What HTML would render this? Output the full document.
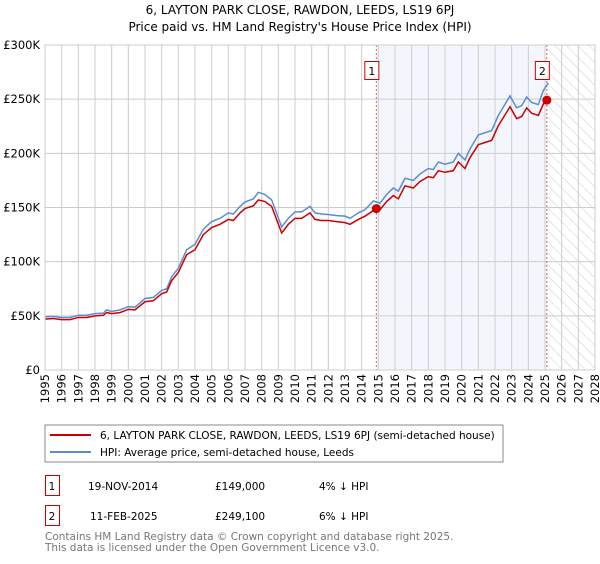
<!DOCTYPE html>
<html><head><meta charset="utf-8"><style>
body{margin:0;background:#fff;font-family:"DejaVu Sans","Liberation Sans",sans-serif;}
svg text{font-family:"DejaVu Sans","Liberation Sans",sans-serif;}
</style></head><body>
<svg id="c" width="600" height="560" xmlns="http://www.w3.org/2000/svg">
<defs><pattern id="hatch" width="8" height="8" patternUnits="userSpaceOnUse" patternTransform="rotate(-45)"><line x1="0" y1="0" x2="0" y2="8" stroke="#ccc" stroke-width="1"/></pattern></defs>
<text x="300" y="14" text-anchor="middle" font-size="12">6, LAYTON PARK CLOSE, RAWDON, LEEDS, LS19 6PJ</text>
<text x="300" y="31" text-anchor="middle" font-size="12">Price paid vs. HM Land Registry's House Price Index (HPI)</text>
<g id="plot"></g>
<rect x="45" y="425" width="458" height="37" fill="#fff" stroke="#888"/>
<line x1="50" y1="435" x2="91" y2="435" stroke="#cc0000" stroke-width="2"/>
<text x="100" y="439" font-size="10.5">6, LAYTON PARK CLOSE, RAWDON, LEEDS, LS19 6PJ (semi-detached house)</text>
<line x1="50" y1="452" x2="91" y2="452" stroke="#5b8bd0" stroke-width="2"/>
<text x="100" y="456" font-size="10.5">HPI: Average price, semi-detached house, Leeds</text>
<g font-size="10.5">
<rect x="45.5" y="475.5" width="14" height="20" fill="none" stroke="#cc0000"/><text x="52" y="490" text-anchor="middle">1</text>
<text x="88" y="490">19-NOV-2014</text><text x="215" y="490">£149,000</text><text x="319" y="490">4% ↓ HPI</text></g>
<g font-size="10.5">
<rect x="45.5" y="505.5" width="14" height="20" fill="none" stroke="#cc0000"/><text x="52" y="520" text-anchor="middle">2</text>
<text x="90" y="520">11-FEB-2025</text><text x="215" y="520">£249,100</text><text x="319" y="520">6% ↓ HPI</text></g>
<text x="45" y="540" font-size="10.5" fill="#777">Contains HM Land Registry data © Crown copyright and database right 2025.</text>
<text x="45" y="551" font-size="10.5" fill="#777">This data is licensed under the Open Government Licence v3.0.</text>
</svg>
<script>
const hpiYears=[1995.0,1995.5,1996.0,1996.5,1997.0,1997.5,1998.0,1998.5,1998.7,1999.0,1999.5,2000.0,2000.4,2001.0,2001.5,2002.0,2002.3,2002.6,2003.0,2003.5,2004.0,2004.5,2005.0,2005.5,2006.0,2006.3,2006.7,2007.0,2007.5,2007.8,2008.2,2008.6,2009.2,2009.6,2010.0,2010.4,2010.9,2011.2,2011.6,2012.0,2012.5,2013.0,2013.3,2013.8,2014.2,2014.7,2015.1,2015.5,2015.9,2016.2,2016.6,2017.1,2017.5,2018.0,2018.3,2018.6,2019.0,2019.5,2019.8,2020.2,2020.5,2021.0,2021.4,2021.8,2022.2,2022.9,2023.3,2023.6,2023.9,2024.2,2024.6,2024.9,2025.2];
const hpiValues=[49,49.5,48.5,48.5,50.5,50.5,52,52.5,55.5,54,55.5,58.5,58,66,67,73.5,75,86,94,111,116,130,137,140,145,144,151,155,158,164,162,157,132,140,146,146,151,145,144,143.5,142.5,142,140,145,148,156,154,162,168,165,177,175,181,186,185,192,190,192,200,194,204,217,219,221,235,253,242,244,252,247,245,258,265];
const priceYears=[1995.0,1995.5,1996.0,1996.5,1997.0,1997.5,1998.0,1998.5,1998.7,1999.0,1999.5,2000.0,2000.4,2001.0,2001.5,2002.0,2002.3,2002.6,2003.0,2003.5,2004.0,2004.5,2005.0,2005.5,2006.0,2006.3,2006.7,2007.0,2007.5,2007.8,2008.2,2008.6,2009.2,2009.6,2010.0,2010.4,2010.9,2011.2,2011.6,2012.0,2012.5,2013.0,2013.3,2013.8,2014.2,2014.88,2015.1,2015.5,2015.9,2016.2,2016.6,2017.1,2017.5,2018.0,2018.3,2018.6,2019.0,2019.5,2019.8,2020.2,2020.5,2021.0,2021.4,2021.8,2022.2,2022.9,2023.3,2023.6,2023.9,2024.2,2024.6,2024.9,2025.11];
const priceValues=[47,47.5,46.5,46.5,48.5,48.5,50,50.5,53,52,53,56,55.5,63,64,70.5,72,82.5,90,106.5,111,125,131.5,134.5,139,138,145,149,151.5,157,155.5,151,126.5,134.5,140,140,145,139,138,138,137,136,134.5,139,142,149,148,155.5,161,158,170,168,174,178.5,177.5,184,182.5,184,192,186,196,208,210,212,225.5,243,232,234,242,237,235,245.5,249.1];
const saleYears=[2014.88,2025.11];
const saleValues=[149,249.1];
const saleLabels=["1","2"];
const yTicks=[0,50,100,150,200,250,300];
const yTickLabels=["£0","£50K","£100K","£150K","£200K","£250K","£300K"];
const xMin=1995,xMax=2028,L=45,R=595,T=45,B=370;
const X=t=>L+(t-xMin)/(xMax-xMin)*(R-L);
const Y=v=>B-v/300*(B-T);
const NS="http://www.w3.org/2000/svg";
const g=document.getElementById('plot');
function mk(tag,at){const e=document.createElementNS(NS,tag);for(const k in at)e.setAttribute(k,at[k]);g.appendChild(e);return e;}
let e=mk('rect',{x:X(saleYears[0]),y:T,width:X(saleYears[1])-X(saleYears[0]),height:B-T,fill:'#eef3fc',opacity:0.7});


e=mk('rect',{x:X(saleYears[1]),y:T,width:R-X(saleYears[1]),height:B-T,fill:'url(#hatch)'});


for(let yr=xMin;yr<=xMax;yr++){
 e=mk('line',{x1:X(yr),x2:X(yr),y1:T,y2:B,stroke:'#ccc','stroke-width':1});
 
 
 const tx=X(yr)+4,ty=B+4;
 e=mk('text',{x:tx,y:ty,transform:`rotate(-90 ${tx} ${ty})`,'text-anchor':'end','font-size':11.5});
 e.textContent=yr;
 
 
}
yTicks.forEach((v,i)=>{
 e=mk('line',{x1:L,x2:R,y1:Y(v),y2:Y(v),stroke:'#ccc','stroke-width':1});
 
 
 e=mk('text',{x:L-5,y:Y(v)+4,'text-anchor':'end','font-size':11.5});
 e.textContent=yTickLabels[i];
 
 
});
saleYears.forEach((t,i)=>{
 e=mk('line',{x1:X(t),x2:X(t),y1:T,y2:B,stroke:'#e06060','stroke-width':1,'stroke-dasharray':'2,2'});
 
 
});
e=mk('polyline',{points:hpiYears.map((t,i)=>X(t)+','+Y(hpiValues[i])).join(' '),fill:'none',stroke:'#5b8bd0','stroke-width':1.5});


e=mk('polyline',{points:priceYears.map((t,i)=>X(t)+','+Y(priceValues[i])).join(' '),fill:'none',stroke:'#cc0000','stroke-width':1.5});


saleYears.forEach((t,i)=>{
 e=mk('circle',{cx:X(t),cy:Y(saleValues[i]),r:4.5,fill:'#cc0000'});
 
 
 e=mk('rect',{x:X(t)-11.5,y:61.5,width:14,height:18,fill:'#fff',stroke:'#cc0000'});
 
 
 e=mk('text',{x:X(t)-4.5,y:75,'text-anchor':'middle','font-size':11});
 e.textContent=saleLabels[i];
 
 
});
e=mk('rect',{x:L,y:T,width:R-L,height:B-T,fill:'none',stroke:'#ccc'});


</script>
</body></html>
